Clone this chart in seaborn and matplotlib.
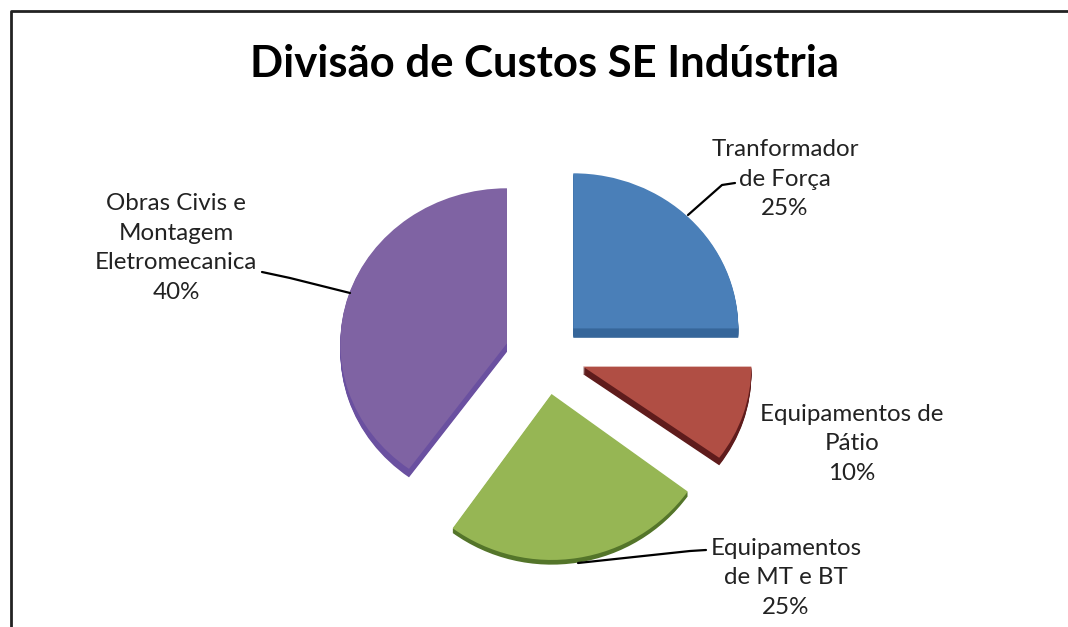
import matplotlib
matplotlib.use("Agg")
import matplotlib.pyplot as plt
from matplotlib.transforms import Affine2D
import seaborn as sns

labels = ["Tranformador\nde Força\n25%", "Equipamentos de\nPátio\n10%",
          "Equipamentos\nde MT e BT\n25%", "Obras Civis e\nMontagem\nEletromecanica\n40%"]
values = [25, 10, 25, 40]
colors = ["#4a7fb8", "#b04e44", "#96b654", "#7f63a3"]
side_colors = ["#36669a", "#5f1c1c", "#54752a", "#6a50a0"]

W, H = 1068, 627
SQUASH = 0.94

sns.set_theme(style="white")
plt.rcParams["font.family"] = ["Lato", "DejaVu Sans"]

fig = plt.figure(figsize=(W / 100, H / 100), dpi=100)
ax_pie = fig.add_axes([0, 0, 1, 1])
ax = fig.add_axes([0, 0, 1, 1])
ax.patch.set_alpha(0)

cx, cy = 545, (H - 355) / SQUASH
radius = 165
explode = [40, 40, 42, 40]
depth = [10, 8, 5, 9]
# perspectiva: a fatia da frente fica um pouco maior
slice_scale = [(1.0, 1.0), (1.02, 1.0), (1.02, 1.07), (1.01, 1.0)]


def draw_pie(pie_colors, dy=0):
    wedges, _ = ax_pie.pie(values, colors=pie_colors, startangle=90, counterclock=False, radius=radius,
                           center=(cx, cy - dy), explode=explode, wedgeprops={"linewidth": 0})
    for w, (sx, sy) in zip(wedges, slice_scale):
        x, y = w.center
        w.set_transform(Affine2D().translate(-x, -y).scale(sx, sy).translate(x, y) + ax_pie.transData)
    return wedges


ax_pie.set_aspect("auto")

# lateral da pizza "3D": mesma pizza deslocada para baixo e mais escura
for dy in range(10, 0, -1):
    for w, d in zip(draw_pie(side_colors, dy), depth):
        w.set_visible(dy <= d)
draw_pie(colors)

ax_pie.set_aspect("auto")
ax_pie.set_xlim(0, W)
ax_pie.set_ylim(0, H / SQUASH)
ax_pie.set_axis_off()

ax.set_xlim(0, W)
ax.set_ylim(0, H)
ax.set_axis_off()

# moldura do gráfico, cortada embaixo e à direita
ax.plot([10.5, 10.5, W], [0, H - 10.5, H - 10.5], color="#222222", lw=2.0, clip_on=False)

ax.text(544, H - 64, "Divisão de Custos SE Indústria", fontsize=31.4, fontweight="bold",
        ha="center", va="center", color="black")

label_pos = [(785, H - 179), (852, H - 444), (786, H - 578), (176, H - 248)]
leaders = [
    ([688, 722, 735], [H - 215, H - 185, H - 183]),
    None,
    ([578, 690, 706], [H - 563, H - 551, H - 550]),
    ([350, 290, 262], [H - 293, H - 278, H - 272]),
]
for lab, pos, ld in zip(labels, label_pos, leaders):
    ax.text(pos[0], pos[1], lab, fontsize=17.4, ha="center", va="center", color="#222222", linespacing=1.5)
    if ld:
        ax.plot(ld[0], ld[1], color="black", lw=1.6)

fig.savefig("out.png", dpi=100, facecolor="white")
